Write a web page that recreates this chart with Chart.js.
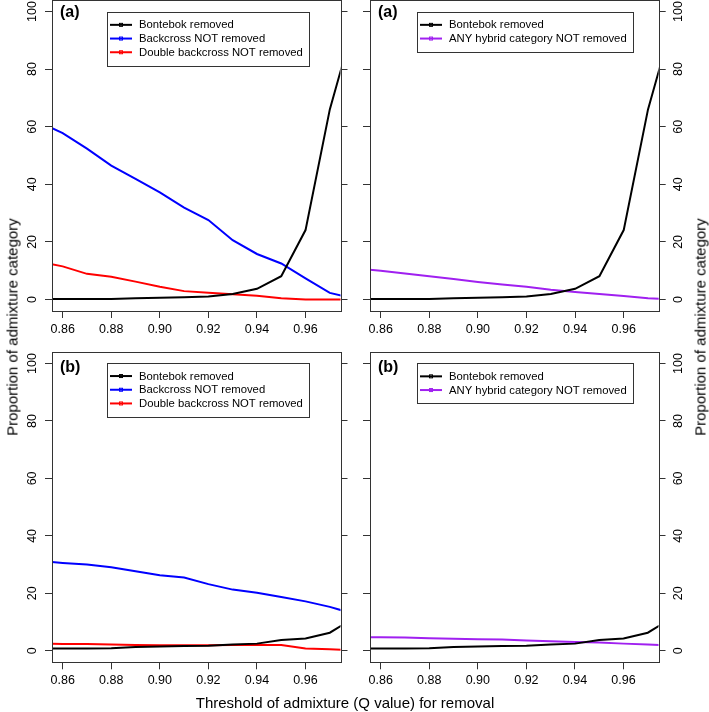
<!DOCTYPE html>
<html>
<head>
<meta charset="utf-8">
<title>Admixture threshold</title>
<script src="https://cdn.jsdelivr.net/npm/chart.js@4.4.1/dist/chart.umd.min.js"></script>
<style>
  html, body { margin: 0; padding: 0; background: #fff; }
  #page {
    position: relative;
    width: 709px;
    height: 712px;
    overflow: hidden;
    font-family: "Liberation Sans", Arial, sans-serif;
    color: #000;
  }
  .panel { position: absolute; }
  .axis-title {
    position: absolute;
    font-size: 15px;
    white-space: nowrap;
    transform: translate(-50%, -50%);
  }
  .axis-title.vertical { transform: translate(-50%, -50%) rotate(-90deg); }
</style>
</head>
<body>
<div id="page">
  <div class="panel" style="left:0;top:0;width:355px;height:345px"><canvas id="chart-a-left" width="355" height="345"></canvas></div>
  <div class="panel" style="left:355px;top:0;width:354px;height:345px"><canvas id="chart-a-right" width="354" height="345"></canvas></div>
  <div class="panel" style="left:0;top:345px;width:355px;height:367px"><canvas id="chart-b-left" width="355" height="367"></canvas></div>
  <div class="panel" style="left:355px;top:345px;width:354px;height:367px"><canvas id="chart-b-right" width="354" height="367"></canvas></div>

  <div class="axis-title" style="left:345px;top:702px">Threshold of admixture (Q value) for removal</div>
  <div class="axis-title vertical" style="left:12px;top:327px">Proportion of admixture category</div>
  <div class="axis-title vertical" style="left:700px;top:327px">Proportion of admixture category</div>
</div>

<script>
// ------------------------------------------------------
// DATA
// ------------------------------------------------------
const qValues = [0.85, 0.86, 0.87, 0.88, 0.89, 0.90, 0.91, 0.92, 0.93, 0.94, 0.95, 0.96, 0.97, 0.98];

const xTicks = [0.86, 0.88, 0.90, 0.92, 0.94, 0.96];
const yTicks = [0, 20, 40, 60, 80, 100];

// panel (a)
const bontebokA = [0.2, 0.2, 0.2, 0.2, 0.4, 0.6, 0.8, 1.0, 1.9, 3.7, 8.1, 24.1, 66, 96];
const backcrossA = [61.7, 57.8, 52.4, 46.5, 41.9, 37.2, 31.9, 27.6, 20.6, 15.8, 12.5, 7.3, 2.3, 0.3];
const doubleBackcrossA = [13.1, 11.5, 8.9, 7.9, 6.2, 4.4, 2.9, 2.3, 1.8, 1.3, 0.4, 0.0, 0.0, 0.0];
const anyHybridA = [10.8, 10.0, 9.0, 8.1, 7.1, 6.1, 5.2, 4.4, 3.4, 2.6, 1.9, 1.2, 0.4, 0.0];

// panel (b)
const bontebokB = [0.8, 0.8, 0.8, 0.9, 1.3, 1.5, 1.7, 1.8, 2.2, 2.5, 3.8, 4.3, 6.3, 11.5];
const backcrossB = [31.3, 30.6, 30.0, 29.1, 27.7, 26.3, 25.5, 23.2, 21.3, 20.2, 18.7, 17.2, 15.3, 12.8];
const doubleBackcrossB = [2.6, 2.4, 2.4, 2.2, 2.0, 1.9, 1.9, 1.9, 2.0, 2.0, 2.0, 0.8, 0.5, 0.3];
const anyHybridB = [4.8, 4.7, 4.6, 4.4, 4.2, 4.0, 3.9, 3.6, 3.3, 3.1, 2.9, 2.5, 2.2, 1.9];

const threeLabels = ["Bontebok removed", "Backcross NOT removed", "Double backcross NOT removed"];
const twoLabels = ["Bontebok removed", "ANY hybrid category NOT removed"];

// ------------------------------------------------------
// STYLE
// ------------------------------------------------------
const FONT_FAMILY = "'Liberation Sans', Arial, Helvetica, sans-serif";
const AXIS_COLOR = "#333333";
const C_BLACK = "#000000";
const C_BLUE = "#0000FF";
const C_RED = "#FF0000";
const C_PURPLE = "#A020F0";

const X_MIN = 0.8556;
const X_MAX = 0.9744;
const Y_MIN = -4;
const Y_MAX = 104;

Chart.defaults.font.family = FONT_FAMILY;
Chart.defaults.color = "#000";

// ------------------------------------------------------
// HELPERS
// ------------------------------------------------------
function toPoints(values) {
  return qValues.map(function (q, i) {
    return { x: q, y: values[i] };
  });
}

function lineSet(label, values, color) {
  return {
    label: label,
    data: toPoints(values),
    borderColor: color,
    backgroundColor: color,
    borderWidth: 2,
    pointRadius: 0,
    tension: 0,
    fill: false,
    clip: 0,
    yAxisID: "y",
  };
}

function crisp(v) {
  return Math.round(v) + 0.5;
}

function drawLegend(ctx, x, y, datasets) {
  const rowH = 13.7;
  ctx.save();
  ctx.font = "11.3px " + FONT_FAMILY;
  let maxW = 0;
  datasets.forEach(function (d) {
    maxW = Math.max(maxW, ctx.measureText(d.label).width);
  });
  const w = 32 + maxW + 6;
  const h = datasets.length * rowH + 13;

  ctx.fillStyle = "#fff";
  ctx.fillRect(x, y, w, h);
  ctx.strokeStyle = AXIS_COLOR;
  ctx.lineWidth = 1;
  ctx.strokeRect(crisp(x), crisp(y), Math.round(w), Math.round(h));

  datasets.forEach(function (d, i) {
    const ry = y + 6.5 + rowH * (i + 0.5);
    ctx.strokeStyle = d.borderColor;
    ctx.lineWidth = 2;
    ctx.beginPath();
    ctx.moveTo(x + 3, ry);
    ctx.lineTo(x + 25, ry);
    ctx.stroke();
    ctx.lineWidth = 1;
    ctx.strokeRect(x + 12.5, ry - 1.5, 3, 3);
    ctx.fillStyle = "#000";
    ctx.textAlign = "left";
    ctx.textBaseline = "middle";
    ctx.fillText(d.label, x + 32, ry + 0.5);
  });
  ctx.restore();
}

// box, rotated y labels, panel tag and legend
const panelDecor = {
  id: "panelDecor",
  afterDraw: function (chart, args, opts) {
    const ctx = chart.ctx;
    const ca = chart.chartArea;
    const yScale = chart.scales.y;

    ctx.save();
    ctx.strokeStyle = AXIS_COLOR;
    ctx.lineWidth = 1;
    ctx.strokeRect(crisp(ca.left), crisp(ca.top), Math.round(ca.right) - Math.round(ca.left), Math.round(ca.bottom) - Math.round(ca.top));

    ctx.fillStyle = "#000";
    ctx.font = "12.5px " + FONT_FAMILY;
    ctx.textAlign = "center";
    ctx.textBaseline = "middle";
    const lx = opts.side === "left" ? ca.left - 19 : ca.right + 20;
    yTicks.forEach(function (v) {
      const py = yScale.getPixelForValue(v);
      ctx.save();
      ctx.translate(lx, py);
      ctx.rotate(-Math.PI / 2);
      ctx.fillText(String(v), 0, 0);
      ctx.restore();
    });

    ctx.font = "bold 16px " + FONT_FAMILY;
    ctx.textAlign = "left";
    ctx.fillText(opts.tag, ca.left + 8, ca.top + opts.tagDy);
    ctx.restore();

    drawLegend(ctx, ca.left + opts.legendDx, ca.top + opts.legendDy, chart.data.datasets);
  },
};

function tickGrid() {
  return {
    drawOnChartArea: false,
    drawTicks: true,
    tickLength: 7,
    color: AXIS_COLOR,
    lineWidth: 1,
  };
}

// ------------------------------------------------------
// PANEL
// ------------------------------------------------------
function makePanel(id, o) {
  const other = o.side === "left" ? "right" : "left";
  return new Chart(document.getElementById(id), {
    type: "line",
    data: { datasets: o.datasets },
    plugins: [panelDecor],
    options: {
      responsive: false,
      animation: false,
      devicePixelRatio: 1,
      layout: { padding: { top: o.padTop, left: 0, right: 0, bottom: 0 } },
      plugins: {
        legend: { display: false },
        tooltip: { enabled: false },
        panelDecor: {
          side: o.side,
          tag: o.tag,
          tagDy: o.tagDy,
          legendDx: o.legendDx,
          legendDy: o.legendDy,
        },
      },
      scales: {
        x: {
          type: "linear",
          position: "bottom",
          min: X_MIN,
          max: X_MAX,
          afterBuildTicks: function (s) {
            s.ticks = xTicks.map(function (v) { return { value: v }; });
          },
          afterFit: function (s) { s.height = o.xAxisH; },
          ticks: {
            color: "#000",
            font: { size: 12.5 },
            padding: o.xPad,
            maxRotation: 0,
            callback: function (v) { return Number(v).toFixed(2); },
          },
          grid: tickGrid(),
          border: { display: false },
        },
        y: {
          type: "linear",
          position: o.side,
          min: Y_MIN,
          max: Y_MAX,
          afterBuildTicks: function (s) {
            s.ticks = yTicks.map(function (v) { return { value: v }; });
          },
          afterFit: function (s) { s.width = o.labelW; },
          ticks: { display: false },
          grid: tickGrid(),
          border: { display: false },
        },
        y2: {
          type: "linear",
          position: other,
          min: Y_MIN,
          max: Y_MAX,
          afterBuildTicks: function (s) {
            s.ticks = yTicks.map(function (v) { return { value: v }; });
          },
          afterFit: function (s) { s.width = o.otherW; },
          ticks: { display: false },
          grid: tickGrid(),
          border: { display: false },
        },
      },
    },
  });
}

// ------------------------------------------------------
// INIT
// ------------------------------------------------------
makePanel("chart-a-left", {
  side: "left", labelW: 52, otherW: 14.5, padTop: 0, xAxisH: 34, xPad: 4.5,
  tag: "(a)", tagDy: 13, legendDx: 55, legendDy: 11.5,
  datasets: [
    lineSet(threeLabels[0], bontebokA, C_BLACK),
    lineSet(threeLabels[1], backcrossA, C_BLUE),
    lineSet(threeLabels[2], doubleBackcrossA, C_RED),
  ],
});

makePanel("chart-a-right", {
  side: "right", labelW: 50.3, otherW: 15, padTop: 0, xAxisH: 34, xPad: 4.5,
  tag: "(a)", tagDy: 13, legendDx: 47, legendDy: 11.5,
  datasets: [
    lineSet(twoLabels[0], bontebokA, C_BLACK),
    lineSet(twoLabels[1], anyHybridA, C_PURPLE),
  ],
});

makePanel("chart-b-left", {
  side: "left", labelW: 52, otherW: 14.5, padTop: 7, xAxisH: 49.7, xPad: 4,
  tag: "(b)", tagDy: 16, legendDx: 55, legendDy: 10.7,
  datasets: [
    lineSet(threeLabels[0], bontebokB, C_BLACK),
    lineSet(threeLabels[1], backcrossB, C_BLUE),
    lineSet(threeLabels[2], doubleBackcrossB, C_RED),
  ],
});

makePanel("chart-b-right", {
  side: "right", labelW: 50.5, otherW: 15, padTop: 7, xAxisH: 49.7, xPad: 4,
  tag: "(b)", tagDy: 16, legendDx: 47, legendDy: 11,
  datasets: [
    lineSet(twoLabels[0], bontebokB, C_BLACK),
    lineSet(twoLabels[1], anyHybridB, C_PURPLE),
  ],
});
</script>
</body>
</html>
